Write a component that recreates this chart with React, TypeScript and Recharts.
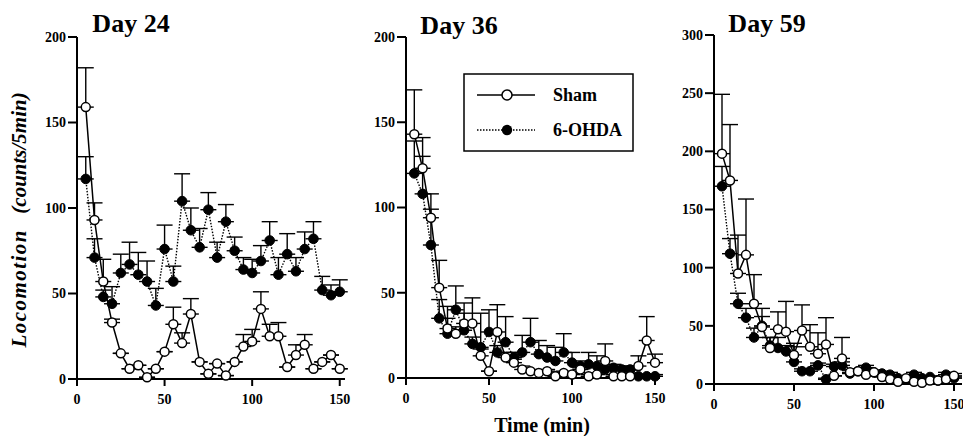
import React from "react";
import { LineChart, Line, XAxis, YAxis, ErrorBar } from "recharts";

const FONT = '"Liberation Serif", "Times New Roman", Times, serif';

// time points (min)
const TIMES = [5, 10, 15, 20, 25, 30, 35, 40, 45, 50, 55, 60, 65, 70, 75, 80, 85, 90, 95, 100, 105, 110, 115, 120, 125, 130, 135, 140, 145, 150];
const X_TICKS = [0, 50, 100, 150];

// Day 24
const sham24 = [159, 93, 57, 33, 15, 6, 8, 1, 6, 16, 32, 21, 38, 10, 3, 9, 2, 10, 19, 22, 41, 25, 25, 7, 14, 20, 6, 10, 14, 6];
const sham24Sem = [23, 10, 13, 2, 0, 0, 0, 0, 0, 0, 10, 6, 9, 0, 0, 0, 0, 0, 7, 7, 10, 7, 8, 0, 6, 6, 0, 0, 0, 0];
const ohda24 = [117, 71, 48, 44, 62, 67, 61, 57, 43, 76, 57, 104, 87, 77, 99, 71, 92, 75, 64, 62, 69, 81, 61, 73, 63, 76, 82, 52, 49, 51];
const ohda24Sem = [13, 11, 4, 10, 11, 13, 13, 12, 10, 14, 9, 16, 13, 11, 10, 9, 10, 8, 7, 8, 9, 11, 10, 12, 8, 10, 10, 8, 6, 7];

// Day 36
const sham36 = [143, 123, 94, 53, 29, 26, 32, 32, 13, 4, 27, 12, 9, 5, 4, 3, 4, 1, 3, 2, 5, 1, 2, 10, 1, 1, 1, 7, 22, 9];
const sham36Sem = [26, 18, 14, 16, 6, 4, 6, 15, 4, 0, 16, 3, 2, 2, 1, 1, 1, 1, 1, 1, 1, 1, 1, 10, 1, 1, 1, 6, 14, 5];
const ohda36 = [120, 108, 78, 35, 26, 40, 28, 20, 18, 27, 15, 21, 12, 15, 21, 14, 12, 10, 15, 9, 7, 8, 7, 5, 6, 5, 5, 1, 1, 1];
const ohda36Sem = [19, 22, 21, 11, 16, 14, 16, 4, 20, 13, 4, 15, 3, 10, 14, 8, 7, 8, 11, 6, 3, 7, 6, 2, 2, 2, 2, 1, 1, 1];

// Day 59
const sham59 = [198, 175, 95, 111, 69, 49, 31, 47, 45, 25, 46, 32, 26, 34, 7, 22, 10, 11, 8, 10, 6, 4, 2, 5, 2, 1, 3, 3, 4, 7];
const sham59Sem = [51, 48, 33, 48, 25, 16, 9, 15, 26, 10, 22, 19, 18, 23, 0, 18, 2, 2, 1, 1, 1, 1, 1, 1, 1, 1, 1, 1, 1, 2];
const ohda59 = [170, 112, 69, 57, 40, 50, 33, 31, 28, 19, 11, 11, 16, 4, 15, 16, 9, 11, 14, 10, 9, 8, 5, 4, 8, 5, 6, 3, 8, 5];
const ohda59Sem = [17, 13, 9, 8, 8, 8, 7, 9, 5, 13, 2, 2, 2, 1, 2, 3, 3, 2, 2, 2, 2, 2, 1, 1, 2, 1, 1, 1, 2, 1];

const Y_TICKS_200 = [0, 50, 100, 150, 200];
const Y_TICKS_300 = [0, 50, 100, 150, 200, 250, 300];

function buildRows(sham: number[], shamSem: number[], ohda: number[], ohdaSem: number[]) {
  return TIMES.map((t, i) => ({
    t,
    sham: sham[i],
    shamErr: [0, shamSem[i]],
    ohda: ohda[i],
    ohdaErr: [0, ohdaSem[i]],
  }));
}

const tickStyle = { fill: "#000", fontSize: 14, fontWeight: 700, fontFamily: FONT };
const axisStroke = { stroke: "#000", strokeWidth: 2 };

type PanelProps = {
  rows: any[];
  left: number; right: number; top: number; bottom: number;
  yMax: number; yTicks: number[]; xMax: number;
};

function Panel({ rows, left, right, top, bottom, yMax, yTicks, xMax }: PanelProps) {
  const YW = 40, XH = 40;
  return (
    <div style={{ position: "absolute", left: 0, top: 0 }}>
      <LineChart width={963} height={436} data={rows}
        margin={{ top, left: left - YW, right: 963 - right, bottom: 436 - bottom - XH }}>
        <XAxis type="number" dataKey="t" domain={[0, xMax]} ticks={X_TICKS} interval={0}
          height={XH} axisLine={axisStroke} tickLine={axisStroke} tickSize={7} tickMargin={8} tick={tickStyle} />
        <YAxis type="number" domain={[0, yMax]} ticks={yTicks} interval={0} width={YW}
          axisLine={axisStroke} tickLine={axisStroke} tickSize={9} tickMargin={2} tick={tickStyle} />
        <Line dataKey="ohda" stroke="#000" strokeWidth={1.4} strokeDasharray="1.5 1.5"
          dot={{ r: 4.8, fill: "#000", stroke: "#000", strokeWidth: 1, strokeDasharray: "" }}
          activeDot={false} isAnimationActive={false}>
          <ErrorBar dataKey="ohdaErr" width={8} stroke="#000" strokeWidth={1.4} direction="y" />
        </Line>
        <Line dataKey="sham" stroke="#000" strokeWidth={1.5}
          dot={{ r: 4.5, fill: "#fff", stroke: "#000", strokeWidth: 1.5 }}
          activeDot={false} isAnimationActive={false}>
          <ErrorBar dataKey="shamErr" width={8} stroke="#000" strokeWidth={1.4} direction="y" />
        </Line>
      </LineChart>
    </div>
  );
}

export default function App() {
  const rows24 = buildRows(sham24, sham24Sem, ohda24, ohda24Sem);
  const rows36 = buildRows(sham36, sham36Sem, ohda36, ohda36Sem);
  const rows59 = buildRows(sham59, sham59Sem, ohda59, ohda59Sem);

  return (
    <div style={{ position: "absolute", left: 0, top: 0, width: 963, height: 436, background: "#fff", fontFamily: FONT }}>
      <Panel rows={rows24} left={77} right={345} top={37} bottom={379} yMax={200} yTicks={Y_TICKS_200} xMax={153} />
      <Panel rows={rows36} left={406} right={660} top={37} bottom={378} yMax={200} yTicks={Y_TICKS_200} xMax={153} />
      <Panel rows={rows59} left={714} right={962} top={35} bottom={384} yMax={300} yTicks={Y_TICKS_300} xMax={155} />

      <svg width={963} height={436} style={{ position: "absolute", left: 0, top: 0, pointerEvents: "none" }}>
        <g fontFamily={FONT} fontWeight={700} fill="#000">
          <text x={131} y={32} fontSize={26} textAnchor="middle">Day 24</text>
          <text x={459} y={34} fontSize={26} textAnchor="middle">Day 36</text>
          <text x={767} y={32} fontSize={26} textAnchor="middle">Day 59</text>
          <text x={542} y={432} fontSize={20} textAnchor="middle">Time (min)</text>
          <text transform="translate(26,289) rotate(-90)" fontSize={21} fontStyle="italic" textAnchor="middle"
            textLength={117} lengthAdjust="spacing">Locomotion</text>
          <text transform="translate(26,153) rotate(-90)" fontSize={21} fontStyle="italic" textAnchor="middle">(counts/5min)</text>
        </g>
        <rect x={464} y={74} width={169} height={77} fill="#fff" stroke="#000" strokeWidth={1.5} />
        <line x1={477} x2={535} y1={95} y2={95} stroke="#000" strokeWidth={1.5} />
        <circle cx={507} cy={95} r={5} fill="#fff" stroke="#000" strokeWidth={1.5} />
        <line x1={477} x2={535} y1={130} y2={130} stroke="#000" strokeWidth={1.4} strokeDasharray="1.5 1.5" />
        <circle cx={507} cy={130} r={5.2} fill="#000" />
        <g fontFamily={FONT} fontWeight={700} fontSize={18} fill="#000">
          <text x={553} y={101}>Sham</text>
          <text x={553} y={136}>6-OHDA</text>
        </g>
      </svg>
    </div>
  );
}
